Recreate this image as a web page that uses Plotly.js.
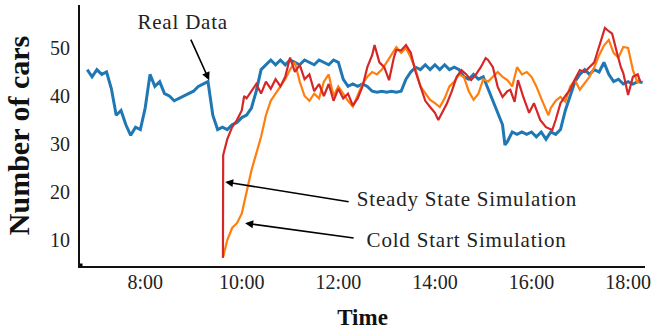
<!DOCTYPE html>
<html>
<head>
<meta charset="utf-8">
<script src="https://cdn.plot.ly/plotly-3.0.1.min.js"></script>
<style>
html,body{margin:0;padding:0;background:#fff;}
#chart{width:652px;height:332px;}
#chart .annotation-text{letter-spacing:0.8px;}
</style>
</head>
<body>
<div id="chart"></div>
<script>
// Real data (time in hours, number of cars)
const realTime = [6.8,6.9,7.0,7.1,7.2,7.3,7.4,7.5,7.6,7.7,7.8,7.9,8.0,8.1,8.2,8.3,8.4,8.5,8.6,8.7,8.8,8.9,9.0,9.1,9.2,9.3,9.4,9.5,9.6,9.7,9.8,9.9,10.0,10.1,10.2,10.3,10.4,10.5,10.6,10.7,10.8,10.9,11.0,11.1,11.2,11.3,11.4,11.5,11.6,11.7,11.8,11.9,12.0,12.1,12.2,12.3,12.4,12.5,12.6,12.7,12.8,12.9,13.0,13.1,13.2,13.3,13.4,13.5,13.6,13.7,13.8,13.9,14.0,14.1,14.2,14.3,14.4,14.5,14.6,14.7,14.8,14.9,15.0,15.1,15.2,15.3,15.4,15.45,15.5,15.6,15.7,15.8,15.9,16.0,16.1,16.2,16.3,16.4,16.5,16.6,16.7,16.8,16.9,17.0,17.1,17.2,17.3,17.4,17.5,17.6,17.7,17.8,17.9,18.0,18.1,18.2,18.3];
const realCars = [45.5,44,45.5,44.5,45,41.5,36,37,34,31.8,33.5,33,37.5,44.5,42,43,40.5,40,39,39.5,40,40.5,41,42,42.5,43,36,33,33.5,33,34,34.5,35.5,36,37.5,41,45.5,46.5,47.5,46.5,47.5,46.5,47.5,47,46.5,47.5,47,46.5,47.5,47,46.5,47.5,47,43.5,42,42.5,42,42.5,42,41,40.8,41,40.8,41,40.8,41,43.5,45,46,45.5,46.5,45.5,46.5,45.5,46.5,45.5,46,45.5,44,43.5,44.5,43.5,44,41.5,39,36.5,34,29.8,30.5,32.5,32,32.5,32,32.5,31.5,32.5,31,32.5,32,33,37,40,43,44.5,45.5,44.5,45.5,45,47,44.5,43,43.5,42.5,43,42.5,43,42.8];

// Cold start simulation
const coldTime = [9.61,9.7,9.8,9.9,10.0,10.1,10.2,10.3,10.4,10.5,10.6,10.7,10.8,10.9,11.0,11.1,11.2,11.3,11.4,11.5,11.6,11.7,11.8,11.9,12.0,12.1,12.2,12.3,12.4,12.5,12.6,12.7,12.8,12.9,13.0,13.1,13.2,13.3,13.4,13.5,13.6,13.7,13.8,13.9,14.0,14.1,14.2,14.3,14.4,14.5,14.6,14.7,14.8,14.9,15.0,15.1,15.2,15.3,15.4,15.5,15.6,15.7,15.8,15.9,16.0,16.1,16.2,16.3,16.35,16.4,16.5,16.6,16.7,16.8,16.9,17.0,17.1,17.2,17.3,17.4,17.5,17.6,17.7,17.8,17.9,18.0,18.1,18.2,18.25];
const coldCars = [6.3,10,12.5,13.5,15.5,20,24.5,28,31.5,36,39,40.5,42,43.5,45.5,47,43,40,39,40.5,39.5,43,44.5,40,42,40.5,39,37.8,40,42.5,44,45,44.5,45.5,47,48.5,50.2,49,50,48,45.5,42,40.5,39.2,38.5,37.7,39.5,42,43,44.5,44,41,39.2,40.5,43.5,43,44,45,44,43.3,42,46,44.5,45,44,42,39.5,37,36,37.5,39,39.8,38.8,42,43.3,41.3,42.7,44,46,48.5,50.5,51.7,49,48,50.2,50,45.4,42.7,43.5];

// Steady state simulation
const steadyTime = [9.61,9.615,9.7,9.8,9.9,10.0,10.05,10.1,10.2,10.3,10.4,10.5,10.6,10.7,10.8,10.9,11.0,11.1,11.2,11.3,11.4,11.5,11.6,11.7,11.8,11.9,12.0,12.1,12.2,12.3,12.4,12.5,12.6,12.7,12.75,12.85,12.95,13.05,13.15,13.2,13.3,13.4,13.5,13.6,13.7,13.8,13.9,14.0,14.07,14.15,14.25,14.35,14.45,14.55,14.65,14.75,14.85,14.95,15.05,15.1,15.2,15.3,15.4,15.5,15.56,15.65,15.72,15.83,15.95,16.05,16.18,16.3,16.43,16.5,16.6,16.7,16.8,16.9,17.0,17.1,17.2,17.3,17.36,17.45,17.52,17.6,17.67,17.77,17.85,17.9,18.0,18.1,18.2,18.25];
const steadyCars = [6.3,27.7,31,33.5,35,37,40,39.5,41,42.5,40.5,43,41.5,43.5,42,44,48,45,46.5,43.5,44.5,41,42.5,40,42.5,39,41.5,39.5,40.5,38,39.5,42,46,48.5,50.6,47,46,43.3,48,49.6,49.5,50.6,49,45,42,39,37.7,36.5,35,36.5,38.5,41,44,45.4,44.5,43.3,44.5,46,47.9,47.5,46,41.9,39.8,41,41.3,38.8,43.3,39.8,36.5,38.5,35,33.5,32.9,35,38.5,40,41.3,43.5,45.4,45,46,47,49,52,54.2,53.5,53,49,46,44.8,40.2,44,44.5,43];

const xTickVals = [8,10,12,14,16,18];
const xTickText = ["8:00","10:00","12:00","14:00","16:00","18:00"];
const yTickVals = [10,20,30,40,50];

const serif = "Liberation Serif, Times New Roman, serif";
const txt = '#222';

const traces = [
  {x: realTime, y: realCars, type: 'scatter', mode: 'lines', name: 'Real Data',
   line: {color: '#1f77b4', width: 3}},
  {x: coldTime, y: coldCars, type: 'scatter', mode: 'lines', name: 'Cold Start Simulation',
   line: {color: '#ff7f0e', width: 2.2}},
  {x: steadyTime, y: steadyCars, type: 'scatter', mode: 'lines', name: 'Steady State Simulation',
   line: {color: '#d62728', width: 2.2}}
];

const layout = {
  width: 652, height: 332,
  margin: {l: 80, r: 7, t: 5, b: 66},
  paper_bgcolor: '#fff', plot_bgcolor: '#fff',
  showlegend: false,
  font: {family: serif, size: 20, color: txt},
  xaxis: {
    range: [6.65, 18.35],
    tickvals: xTickVals, ticktext: xTickText,
    showgrid: false, zeroline: false,
    showline: true, linecolor: '#111', linewidth: 2,
    ticks: '', ticklabelstandoff: -3,
    tickfont: {family: serif, size: 20, color: txt},
    title: {text: '<b>Time</b>', font: {family: serif, size: 23, color: '#111'}, standoff: 17}
  },
  yaxis: {
    range: [4.58, 58.96],
    tickvals: yTickVals,
    showgrid: false, zeroline: false,
    showline: true, linecolor: '#111', linewidth: 2,
    ticks: 'outside', ticklen: 4, tickcolor: 'rgba(0,0,0,0)',
    tickfont: {family: serif, size: 20, color: txt},
    title: {text: '<b>Number of cars</b>', font: {family: serif, size: 30, color: '#111'}, standoff: 12}
  },
  shapes: [
    {type: 'rect', xref: 'x', yref: 'y', xsizemode: 'pixel', ysizemode: 'pixel',
     xanchor: 6.65, yanchor: 4.58, x0: -2.5, x1: 2.5, y0: -2.5, y1: 2.5,
     fillcolor: '#000', line: {width: 0}, layer: 'above'}
  ],
  annotations: [
    {x: 8.79, y: 55.4, xref: 'x', yref: 'y', text: 'Real Data', showarrow: false,
     font: {family: serif, size: 21, color: txt}},
    {x: 9.325, y: 43.3, xref: 'x', yref: 'y', text: '', showarrow: true,
     ax: -19, ay: -42, arrowhead: 2, arrowsize: 1, arrowwidth: 1.6, arrowcolor: '#000'},
    {x: 12.535, y: 18.5, xref: 'x', yref: 'y', text: 'Steady State Simulation', showarrow: false,
     xanchor: 'left', font: {family: serif, size: 21, color: txt}},
    {x: 9.656, y: 22.1, xref: 'x', yref: 'y', text: '', showarrow: true,
     ax: 125, ay: 20, arrowhead: 2, arrowsize: 1, arrowwidth: 1.6, arrowcolor: '#000'},
    {x: 12.72, y: 10, xref: 'x', yref: 'y', text: 'Cold Start Simulation', showarrow: false,
     xanchor: 'left', font: {family: serif, size: 21, color: txt}},
    {x: 10.07, y: 13.5, xref: 'x', yref: 'y', text: '', showarrow: true,
     ax: 110, ay: 15, arrowhead: 2, arrowsize: 1, arrowwidth: 1.6, arrowcolor: '#000'}
  ]
};

Plotly.newPlot('chart', traces, layout, {displayModeBar: false, staticPlot: true});
</script>
</body>
</html>
